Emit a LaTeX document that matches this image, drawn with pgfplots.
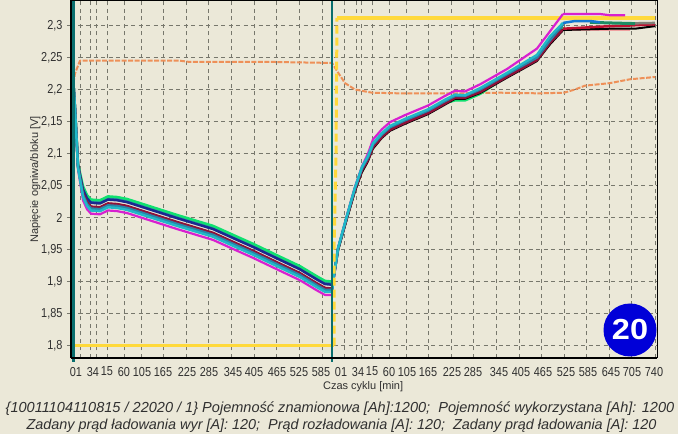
\documentclass[border=0pt]{standalone}
\usepackage{pgfplots}
\usepackage{pgfplotstable}
\usepackage{fontspec}
\setmainfont{Liberation Sans}
\newfontfamily\tickf[FakeStretch=0.84]{Liberation Sans}
\pgfplotsset{compat=1.18}
\definecolor{bgc}{HTML}{EBE8D8}
\definecolor{gridc}{HTML}{77776C}
\definecolor{tealc}{HTML}{0A6E6E}
\definecolor{yel}{HTML}{FFD93B}
\definecolor{oran}{HTML}{EE9058}
\definecolor{mag}{HTML}{D820D0}
\definecolor{cyanc}{HTML}{20B8C8}
\definecolor{tealb}{HTML}{2A84A8}
\definecolor{greenc}{HTML}{10E070}
\definecolor{navy}{HTML}{1A2A90}
\definecolor{dred}{HTML}{901038}
\definecolor{txt}{HTML}{303030}
\definecolor{pinkc}{HTML}{F0A0A0}
\definecolor{redc}{HTML}{BE1030}
\definecolor{grayc}{HTML}{808078}
\definecolor{greent}{HTML}{1E8C64}
\definecolor{bluec}{HTML}{1478D2}
\pgfplotstableread{
x c mag cyan teal green navy black
73.5 2.208 2.208 2.208 2.208 2.208 2.208 2.208
75 2.17 2.168 2.169 2.17 2.172 2.171 2.17
78 2.08 2.076 2.078 2.079 2.084 2.082 2.08
83 2.038 2.027 2.032 2.035 2.049 2.044 2.038
87 2.024 2.013 2.018 2.021 2.035 2.030 2.024
91 2.017 2.006 2.011 2.014 2.028 2.023 2.017
100 2.016 2.005 2.010 2.013 2.027 2.022 2.016
108 2.022 2.011 2.016 2.019 2.033 2.028 2.022
117 2.021 2.010 2.015 2.018 2.032 2.027 2.021
127 2.018 2.007 2.012 2.015 2.029 2.024 2.018
141 2.011 2.000 2.005 2.008 2.022 2.017 2.011
163 2.000 1.989 1.994 1.997 2.011 2.006 2.000
177 1.993 1.982 1.987 1.990 2.004 1.999 1.993
213 1.976 1.965 1.970 1.973 1.987 1.982 1.976
240 1.957 1.946 1.951 1.954 1.968 1.963 1.957
253 1.948 1.937 1.942 1.945 1.959 1.954 1.948
277 1.930 1.919 1.924 1.927 1.941 1.936 1.930
300 1.913 1.902 1.907 1.910 1.924 1.919 1.913
317 1.897 1.886 1.891 1.894 1.908 1.903 1.897
325 1.890 1.879 1.884 1.887 1.901 1.896 1.890
332 1.889 1.879 1.884 1.887 1.900 1.895 1.889
333 1.90 1.895 1.899 1.90 1.902 1.90 1.898
338 1.95 1.952 1.952 1.951 1.949 1.95 1.948
347 2.00 2.004 2.003 2.002 2.00 2.001 1.997
355 2.043 2.048 2.047 2.046 2.043 2.045 2.040
362 2.074 2.080 2.079 2.077 2.075 2.076 2.070
368 2.09 2.100 2.096 2.094 2.091 2.093 2.087
373 2.11 2.122 2.116 2.114 2.111 2.113 2.107
382 2.126 2.138 2.132 2.130 2.127 2.129 2.124
390 2.137 2.149 2.143 2.141 2.138 2.140 2.135
405 2.148 2.160 2.154 2.152 2.149 2.151 2.146
428 2.163 2.175 2.169 2.167 2.164 2.166 2.161
445 2.178 2.190 2.184 2.182 2.179 2.181 2.176
455 2.187 2.198 2.192 2.190 2.183 2.189 2.185
465 2.187 2.197 2.191 2.190 2.183 2.189 2.185
480 2.196 2.208 2.202 2.200 2.193 2.199 2.194
507 2.22 2.232 2.226 2.224 2.221 2.223 2.218
537 2.246 2.264 2.254 2.250 2.247 2.249 2.244
550 2.273 2.291 2.283 2.277 2.274 2.276 2.270
563 2.294 2.318 2.304 2.302 2.298 2.302 2.292
}\bands
\begin{document}
\begin{tikzpicture}[x=1pt,y=1pt]
\useasboundingbox (0,0) rectangle (678,434);
\fill[bgc] (0,0) rectangle (678,434);
\begin{axis}[
  at={(71pt,76pt)}, anchor=south west,
  scale only axis, width=586.3pt, height=357pt,
  xmin=71, xmax=657.3, ymin=1.7805, ymax=2.3383,
  clip=false,
  axis background/.style={fill=bgc},
  axis line style={black, line width=1pt},
  tick label style={text=txt, font=\tickf\fontsize{13}{14}\selectfont},
  /pgf/number format/assume math mode=true,
  /pgf/number format/use comma,
  /pgf/number format/fixed,
  /pgf/number format/precision=2,
  ytick={1.8,1.85,1.9,1.95,2,2.05,2.1,2.15,2.2,2.25,2.3},
  ymajorgrids,
  major tick length=4pt,
  ytick style={gridc, line width=0.8pt},
  tick align=outside,
  ytick pos=left,
  yticklabel style={xshift=-1pt},
  ylabel={Napięcie ogniwa/bloku [V]},
  ylabel style={font=\fontsize{11}{13}\selectfont, text=txt, at={(rel axis cs:0,0.50)}, anchor=south, yshift=27pt},
  xtick={76,93,107,124,142,163,187,209,233,254,277,299,321,341,358,372,389,407,428,452,473,499,521,543,566,588,611,632,654},
  xticklabels={01,34,15,60,105,165,225,285,345,405,465,525,585,01,34,15,60,105,165,225,285,345,405,465,525,585,645,705,740},
  xtick style={/pgfplots/major tick length=0pt},
  xticklabel style={yshift=-1.5pt},
  xtick pos=bottom,
  minor xtick={80,90.7,96.7,107,124.7,141,163,186,208.7,231,254,276.7,299,322,344.7,356,361.7,372,389.7,406,428,451.7,473.7,496,519,541,564,586.7,609,631.7,655},
  xminorgrids,
  minor tick length=0pt,
  extra x ticks={73,78.7,84.3,90,95.7,101.3,107,112.7,118.3,124,129.7,135.3,141,146.7,152.3,158,163.7,169.3,175,180.7,186.3,192,197.7,203.3,209,214.7,220.3,226,231.7,237.3,243,248.7,254.3,260,265.7,271.3,277,282.7,288.3,294,299.7,305.3,311,316.7,322.3,328,333.7,339.3,345,350.7,356.3,362,367.7,373.3,379,384.7,390.3,396,401.7,407.3,413,418.7,424.3,430,435.7,441.3,447,452.7,458.3,464,469.7,475.3,481,486.7,492.3,498,503.7,509.3,515,520.7,526.3,532,537.7,543.3,549,554.7,560.3,566,571.7,577.3,583,588.7,594.3,600,605.7,611.3,617,622.7,628.3,634,639.7,645.3,651},
  extra x tick labels={},
  extra x tick style={grid=none, tick align=inside, tick style={gridc, line width=0.6pt, /pgfplots/major tick length=3.5pt}},
  grid style={gridc, line width=0.8pt, dash pattern=on 4pt off 3.5pt},
  minor grid style={gridc, line width=0.8pt, dash pattern=on 4pt off 3.5pt},
  xlabel={Czas cyklu [min]},
  xlabel style={font=\fontsize{11}{13}\selectfont, text=txt, at={(rel axis cs:0.5,0)}, anchor=north, xshift=-1pt, yshift=-20pt},
  every axis plot/.append style={line join=round},
]
% yellow set-point (flat parts)
\addplot[yel, line width=3.5pt, forget plot] coordinates {(73.5,2.208)(73.5,1.8)(334,1.8)};
\addplot[yel, line width=3.5pt, forget plot] coordinates {(337,2.312)(655,2.312)};
% orange
\addplot[oran, line width=2pt, dash pattern=on 5pt off 1.5pt, forget plot] coordinates {(73.5,2.21)(75,2.225)(80,2.245)(180,2.245)(190,2.243)(275,2.243)(332,2.2415)(337,2.229)(345,2.21)(355,2.2)(372,2.195)(400,2.194)(460,2.194)(500,2.195)(540,2.194)(564,2.195)(575,2.2)(585,2.206)(610,2.21)(630,2.216)(655,2.2195)};
% cell voltages
\addplot[mag, line width=2.2pt] table[x=x,y=mag] {\bands};
\addplot[mag, line width=2.2pt] coordinates {(563,2.318)(600,2.318)(610,2.316)(625,2.316)};
\addplot[tealb, line width=2.5pt] coordinates {(83,2.046)(87,2.032)(91,2.025)(100,2.024)(108,2.030)(117,2.029)(127,2.026)(141,2.019)(163,2.008)(177,2.001)(213,1.984)(240,1.965)(253,1.956)(277,1.938)(300,1.921)(317,1.905)(325,1.898)(332,1.897)};
\addplot[greenc, line width=2.5pt] table[x=x,y=green] {\bands};
\addplot[navy, line width=2.5pt] table[x=x,y=navy] {\bands};
\addplot[black, line width=1.5pt] table[x=x,y=black] {\bands};
\addplot[dred, line width=2.5pt] table[x=x,y=c] {\bands};
\addplot[tealb, line width=2.5pt] table[x=x,y=teal] {\bands};
\addplot[cyanc, line width=2.5pt] table[x=x,y=cyan] {\bands};
% tail of the charge, where the cells separate
\addplot[pinkc, line width=2pt] coordinates {(563,2.293)(610,2.293)(630,2.293)};
\addplot[black, line width=2pt] coordinates {(563,2.293)(610,2.295)(635,2.295)(655,2.299)};
\addplot[redc, line width=2.5pt] coordinates {(563,2.295)(587,2.297)(610,2.299)(630,2.300)(655,2.302)};
\addplot[grayc, line width=2.5pt] coordinates {(620,2.303)(655,2.304)};
\addplot[greent, line width=3pt] coordinates {(590,2.305)(610,2.304)(635,2.303)};
\addplot[bluec, line width=2.5pt] coordinates {(563,2.304)(575,2.307)(590,2.307)(600,2.305)};
% yellow step
\addplot[yel, line width=3pt, dash pattern=on 8pt off 4pt, forget plot] coordinates {(334,1.8)(334,1.95)(336,2.1)(337,2.312)};
% discharge / charge boundaries
\addplot[tealc, line width=2.5pt] coordinates {(73.5,1.7745)(73.5,2.3383)};
\addplot[tealc, line width=2pt] coordinates {(332,1.7745)(332,2.3383)};
\draw[black, line width=2.5pt] (rel axis cs:0,0)--(rel axis cs:0,1);
\draw[black, line width=2.2pt] (rel axis cs:0,0)--(rel axis cs:1,0);
\end{axis}
\fill[color={rgb,255:red,0;green,0;blue,216}] (630,104) circle (26.5);
\node[white, font=\fontsize{29}{30}\selectfont\bfseries, transform shape, xscale=1.12] at (630,104) {20};
\node[text=txt, font=\fontsize{14.55}{16}\selectfont\itshape, anchor=center] at (340,25) {\{10011104110815 / 22020 / 1\} Pojemność znamionowa [Ah]:1200;\ \ Pojemność wykorzystana [Ah]: 1200};
\node[text=txt, font=\fontsize{14.4}{16}\selectfont\itshape, anchor=center] at (341.5,8) {Zadany prąd ładowania wyr [A]: 120;\ \ Prąd rozładowania [A]: 120;\ \ Zadany prąd ładowania [A]: 120};
\end{tikzpicture}
\end{document}
